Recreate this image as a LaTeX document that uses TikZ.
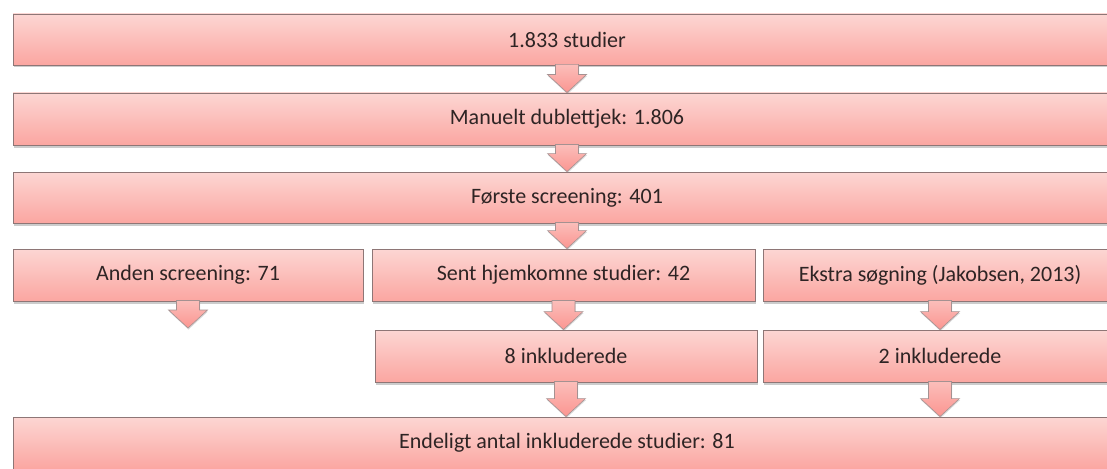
\documentclass[tikz,border=0pt]{standalone}
\usepackage{fontspec}
\setmainfont{Carlito}
\usetikzlibrary{calc,shadows}
\definecolor{pinktop}{HTML}{FCD6D3}
\definecolor{pinkbot}{HTML}{FBA6A1}
\definecolor{boxline}{HTML}{8E7676}
\definecolor{boxtext}{HTML}{2E2424}
\tikzset{
  stepbox/.style={rectangle,draw=boxline,line width=0.9pt,top color=pinktop,bottom color=pinkbot,
    drop shadow={shadow xshift=0.5pt,shadow yshift=-2.5pt,opacity=0.4},
    text=boxtext,font=\fontsize{22}{26}\selectfont,inner sep=0pt,minimum height=52pt},
  arrowbody/.style={draw=boxline!80,line width=0.6pt,top color=pinktop!50!pinkbot,bottom color=pinkbot!90!red,
    drop shadow={shadow xshift=0.5pt,shadow yshift=-1.5pt,opacity=0.3}}
}
\newcommand{\flowarrow}[2]{%
  \path[arrowbody] let \p1=(#1), \p2=(#2) in
    (\x1-11.5pt,\y1+1pt) -- (\x1+11.5pt,\y1+1pt) -- (\x1+11.5pt,\y2+18pt) -- (\x1+19.5pt,\y2+18pt)
    -- (\x1,\y2) -- (\x1-19.5pt,\y2+18pt) -- (\x1-11.5pt,\y2+18pt) -- cycle;}
\begin{document}
\begin{tikzpicture}[x=1pt,y=-1pt]
\useasboundingbox (0,0) rectangle (1107,468);
\clip (0,0) rectangle (1107,468);
\fill[white] (0,0) rectangle (1107,468);

\node[stepbox,minimum width=1108pt,minimum height=51pt] (studier) at (567,39.5) {1.833 studier};
\node[stepbox,minimum width=1108pt] (dublet) at (567,119) {Manuelt dublettjek: 1.806};
\node[stepbox,minimum width=1108pt,minimum height=51pt] (forste) at (567,197.5) {Første screening: 401};

\node[stepbox,minimum width=350pt] (anden) at (188,275) {Anden screening: 71};
\node[stepbox,minimum width=383pt] (sent) at (563.5,275) {Sent hjemkomne studier: 42};
\node[stepbox,minimum width=354pt] (ekstra) at (940,275) {Ekstra søgning (Jakobsen, 2013)};

\node[stepbox,minimum width=382pt] (sentinkl) at (566,356) {8 inkluderede};
\node[stepbox,minimum width=354pt] (ekstrainkl) at (940,356) {2 inkluderede};

\node[stepbox,minimum width=1108pt] (endelig) at (567,443) {Endeligt antal inkluderede studier: 81};

\coordinate (andenend) at (188,328);

\flowarrow{studier.south}{dublet.north}
\flowarrow{dublet.south}{forste.north}
\flowarrow{forste.south}{forste.south |- sent.north}
\flowarrow{anden.south}{andenend}
\flowarrow{sent.south}{sent.south |- sentinkl.north}
\flowarrow{ekstra.south}{ekstrainkl.north}
\flowarrow{sentinkl.south}{sentinkl.south |- endelig.north}
\flowarrow{ekstrainkl.south}{endelig.north -| ekstrainkl.south}
\end{tikzpicture}
\end{document}
